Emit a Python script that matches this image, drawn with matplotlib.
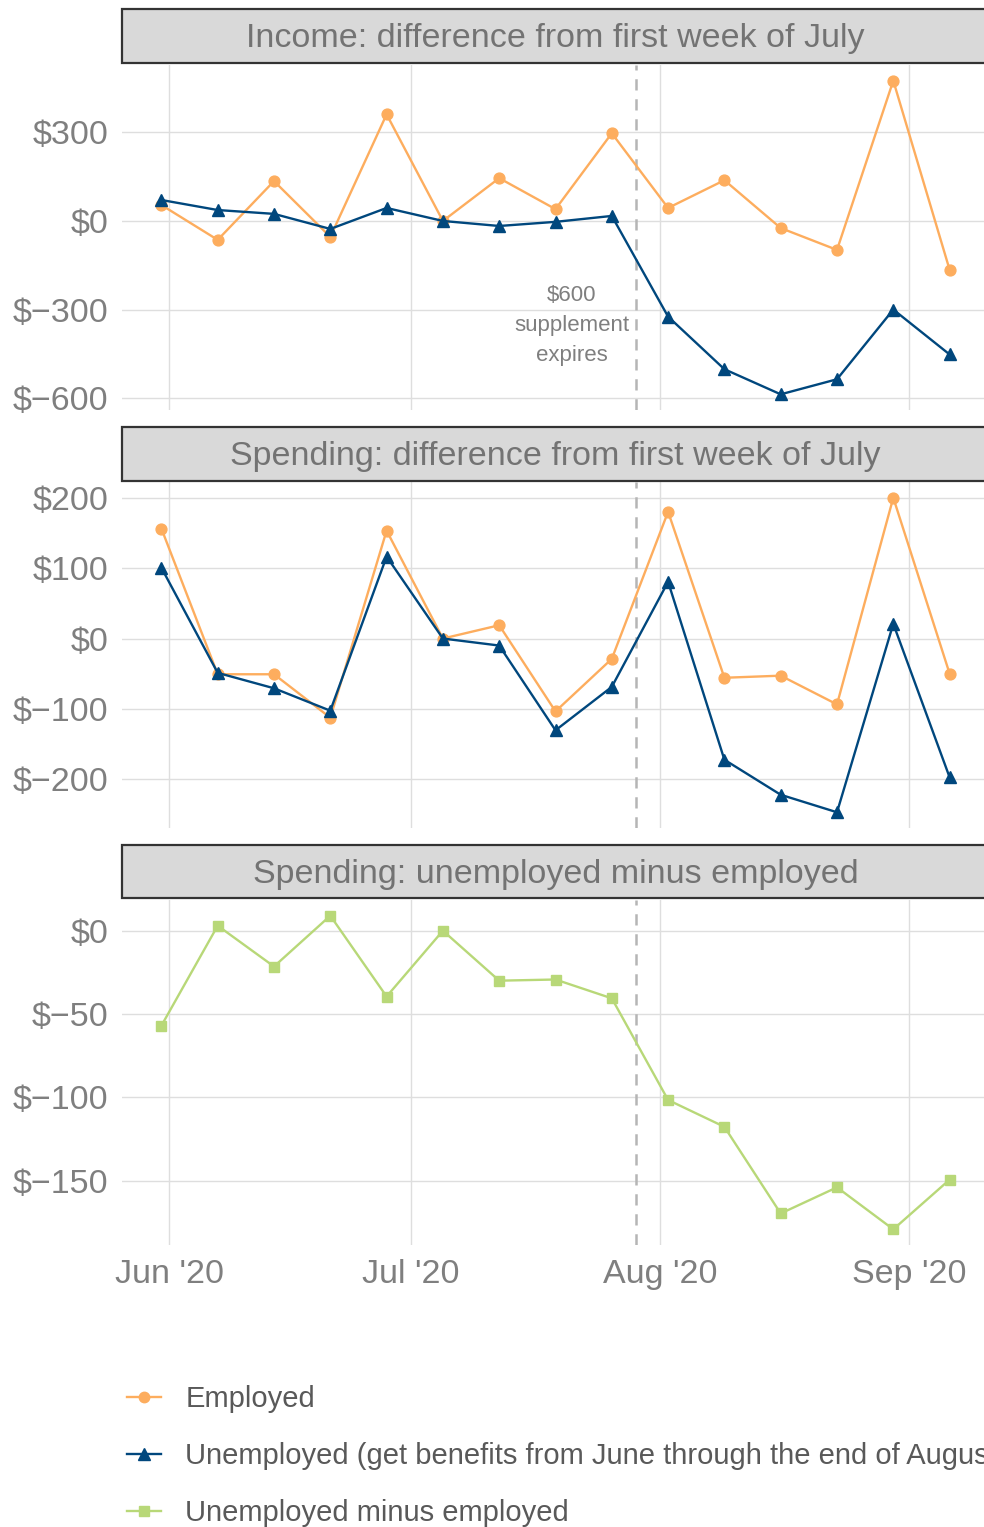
import matplotlib
matplotlib.use("Agg")
import matplotlib.pyplot as plt
import matplotlib.dates as mdates
from matplotlib.lines import Line2D
from matplotlib.patches import Rectangle
import numpy as np
import datetime as dt

plt.rcParams['font.family'] = ['Liberation Sans', 'DejaVu Sans']

# ---------------- data ----------------
weeks = ["2020-05-31", "2020-06-07", "2020-06-14", "2020-06-21", "2020-06-28",
         "2020-07-05", "2020-07-12", "2020-07-19", "2020-07-26", "2020-08-02",
         "2020-08-09", "2020-08-16", "2020-08-23", "2020-08-30", "2020-09-06"]

income_employed = [54, -64, 135, -54, 361, 0, 145, 40, 297, 44, 138, -24, -98, 475, -165]
income_unemployed = [71, 37, 24, -27, 44, 0, -17, -3, 17, -324, -502, -587, -536, -300, -452]

spend_employed = [157, -51, -51, -113, 154, 0, 19, -104, -29, 181, -56, -53, -94, 201, -50]
spend_unemployed = [101, -49, -71, -103, 117, 0, -10, -131, -69, 81, -173, -223, -248, 21, -198]

spend_diff = [-57, 3, -21.5, 9, -39.5, 0, -30, -29.3, -40.6, -101.6, -117.7, -169.7, -154, -179.2, -149.4]

panel_titles = ["Income: difference from first week of July",
                "Spending: difference from first week of July",
                "Spending: unemployed minus employed"]
panel_ticks = [[-600, -300, 0, 300], [-200, -100, 0, 100, 200], [-150, -100, -50, 0]]

series_labels = ["Employed",
                 "Unemployed (get benefits from June through the end of August)",
                 "Unemployed minus employed"]
supplement_date = "2020-07-29"
x_ticks = ["2020-06-01", "2020-07-01", "2020-08-01", "2020-09-01"]
x_ticklabels = ["Jun '20", "Jul '20", "Aug '20", "Sep '20"]

# ---------------- style ----------------
C_EMP = "#FDAD5E"
C_UNEMP = "#00477D"
C_DIFF = "#B8D878"
TXT = "#7F7F7F"
GRID = "#DEDEDE"

dates = [dt.datetime.strptime(d, "%Y-%m-%d") for d in weeks]
xd = mdates.date2num(dates)
span = xd[-1] - xd[0]
xlim = (xd[0] - 0.05 * span, xd[-1] + 0.05 * span)

W, H = 984, 1527
fig = plt.figure(figsize=(W / 100, H / 100), dpi=100)

left_px, right_px = 122, 989
panels_px = [(65, 410), (482, 828), (900, 1245)]
strips_px = [(9, 63), (427, 481), (845, 898)]

def fx(px):
    return px / W

def fy(py):
    return 1 - py / H

series = [
    [(income_employed, C_EMP, 'o', 7.8), (income_unemployed, C_UNEMP, '^', 8.8)],
    [(spend_employed, C_EMP, 'o', 7.8), (spend_unemployed, C_UNEMP, '^', 8.8)],
    [(spend_diff, C_DIFF, 's', 7.0)],
]

def money(v):
    if v < 0:
        return "$\u2212%d" % abs(v)
    return "$%d" % v

axes = []
for i, ((top, bot), (st, sb)) in enumerate(zip(panels_px, strips_px)):
    ax = fig.add_axes([fx(left_px), fy(bot), fx(right_px - left_px), (bot - top) / H])
    axes.append(ax)
    allv = np.concatenate([np.asarray(s[0], float) for s in series[i]])
    lo, hi = allv.min(), allv.max()
    r = hi - lo
    ax.set_ylim(lo - 0.05 * r, hi + 0.05 * r)
    ax.set_xlim(*xlim)
    for vals, col, mk, ms in series[i]:
        ax.plot(xd, vals, color=col, lw=1.7, marker=mk, ms=ms, zorder=3,
                clip_on=False)
    ax.set_yticks(panel_ticks[i])
    ax.set_yticklabels([money(v) for v in panel_ticks[i]])
    ax.set_xticks(mdates.date2num([dt.datetime.strptime(d, "%Y-%m-%d") for d in x_ticks]))
    if i == 2:
        ax.set_xticklabels(x_ticklabels)
    else:
        ax.set_xticklabels([])
    ax.grid(True, color=GRID, lw=1.0, zorder=0)
    ax.set_axisbelow(True)
    for sp in ax.spines.values():
        sp.set_visible(False)
    ax.tick_params(length=0, labelsize=24.5, colors=TXT, pad=10)
    ax.tick_params(axis='x', pad=10)
    ax.axvline(mdates.date2num(dt.datetime.strptime(supplement_date, "%Y-%m-%d")),
               color="#B5B5B5", lw=1.8, ls=(0, (4.5, 3.5)), zorder=2)
    # strip
    rect = Rectangle((fx(left_px), fy(sb)), fx(right_px - left_px), (sb - st) / H,
                     transform=fig.transFigure, facecolor="#D9D9D9",
                     edgecolor="#333333", lw=1.6, zorder=1)
    fig.add_artist(rect)
    fig.text(fx((left_px + right_px) / 2), fy((st + sb) / 2 + 3), panel_titles[i],
             ha='center', va='center', fontsize=24.5, color="#737373")

axes[0].text(mdates.date2num(dt.datetime(2020, 7, 21)), -354,
             "$600\nsupplement\nexpires", ha='center', va='center',
             fontsize=16, color=TXT, linespacing=1.55)

handles = [Line2D([], [], color=C_EMP, lw=1.7, marker='o', ms=7.5),
           Line2D([], [], color=C_UNEMP, lw=1.7, marker='^', ms=8.5),
           Line2D([], [], color=C_DIFF, lw=1.7, marker='s', ms=7)]
leg = fig.legend(handles, series_labels, loc='upper left',
                 bbox_to_anchor=(fx(127), fy(1385)), frameon=False,
                 fontsize=21, handlelength=1.15, handletextpad=0.85,
                 labelspacing=1.0, borderaxespad=0, borderpad=0)
for t in leg.get_texts():
    t.set_color("#595959")

fig.savefig("out.png", dpi=100)
